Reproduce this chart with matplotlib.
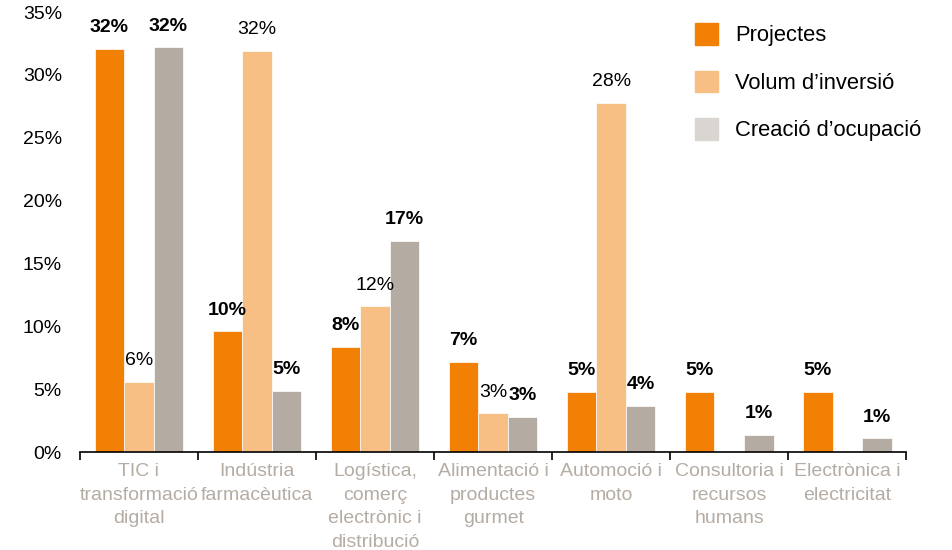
import matplotlib.pyplot as plt
import numpy as np

plt.rcParams["font.family"] = ["Liberation Sans", "DejaVu Sans"]

categories = [
    "TIC i\ntransformació\ndigital",
    "Indústria\nfarmacèutica",
    "Logística,\ncomerç\nelectrònic i\ndistribució",
    "Alimentació i\nproductes\ngurmet",
    "Automoció i\nmoto",
    "Consultoria i\nrecursos\nhumans",
    "Electrònica i\nelectricitat",
]
series_names = ["Projectes", "Volum d\u2019inversió", "Creació d\u2019ocupació"]
projectes = [32.1, 9.6, 8.4, 7.2, 4.8, 4.8, 4.8]
volum = [5.6, 31.9, 11.6, 3.1, 27.8, 0, 0]
creacio = [32.2, 4.9, 16.8, 2.8, 3.7, 1.4, 1.1]
labels_projectes = ["32%", "10%", "8%", "7%", "5%", "5%", "5%"]
labels_volum = ["6%", "32%", "12%", "3%", "28%", "", ""]
labels_creacio = ["32%", "5%", "17%", "3%", "4%", "1%", "1%"]

colors = ["#f28005", "#f7bf84", "#b4aca3"]
legend_colors = ["#f28005", "#f7bf84", "#d9d5d0"]
tick_color = "#b5aca4"

fig = plt.figure(figsize=(9.52, 5.5), dpi=100)
ax = fig.add_axes([0.084, 0.178, 0.868, 0.8])

x = np.arange(len(categories))
w = 0.25
data = [projectes, volum, creacio]
labels = [labels_projectes, labels_volum, labels_creacio]
weights = ["bold", "normal", "bold"]
for k in range(3):
    pos = x + (k - 1) * w
    ax.bar(pos, data[k], w, color=colors[k], edgecolor="white", linewidth=0.5)
    for p, v, t in zip(pos, data[k], labels[k]):
        if t:
            ax.text(p, v + 1.0, t, ha="center", va="bottom", fontsize=14,
                    fontweight=weights[k], color="black")

ax.set_xlim(-0.5, len(categories) - 0.5)
ax.set_ylim(0, 35)
ax.set_yticks(range(0, 36, 5))
ax.set_yticklabels([f"{v}%" for v in range(0, 36, 5)], fontsize=14)
ax.tick_params(axis="y", length=0, pad=13)

ax.set_xticks(np.arange(-0.5, len(categories), 1))
ax.set_xticklabels([])
ax.tick_params(axis="x", length=6, width=1.2, direction="out", color="black")
ax.set_xticks(x, minor=True)
ax.set_xticklabels(categories, minor=True, fontsize=14, color=tick_color,
                   linespacing=1.5)
ax.tick_params(axis="x", which="minor", length=0, pad=8)

for s in ["top", "right", "left"]:
    ax.spines[s].set_visible(False)
ax.spines["bottom"].set_linewidth(1.2)

handles = [plt.Rectangle((0, 0), 1, 1, color=c) for c in legend_colors]
leg = ax.legend(handles, series_names, loc="upper left",
                bbox_to_anchor=(0.744, 0.975), frameon=False, fontsize=15.8,
                handlelength=1.05, handleheight=1.15, handletextpad=0.8,
                labelspacing=1.1, borderpad=0, borderaxespad=0)

fig.savefig("out.png", dpi=100)
